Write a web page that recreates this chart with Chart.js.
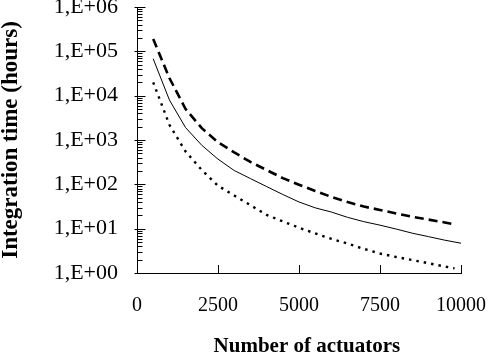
<!DOCTYPE html>
<html>
<head>
<meta charset="utf-8">
<script src="https://cdn.jsdelivr.net/npm/chart.js@4.4.1/dist/chart.umd.min.js"></script>
<style>
html,body{margin:0;padding:0;background:#fff;}
#wrap{width:490px;height:361px;}
</style>
</head>
<body>
<div id="wrap"><canvas id="c" width="490" height="361"></canvas></div>
<script>
// Number of actuators
const actuators = [500,1000,1500,2000,2500,3000,3500,4000,4500,5000,5500,6000,6500,7000,7500,8000,8500,9000,9500,9800];
const actuatorsSolid = [500,1000,1500,2000,2500,3000,3500,4000,4500,5000,5500,6000,6500,7000,7500,8000,8500,9000,9500,10000];
// Integration time (hours)
const dashedSeries = [190000,25000,5000,1850,890,525,320,210,138,98,71,52,40,31.5,26.5,22,18.6,16,13.8,12.5];
const solidSeries  = [68000,8000,1900,760,370,205,135,89,59,40,29.5,23.7,18,14.4,12,9.8,7.9,6.6,5.5,4.7];
const dottedSeries = [20000,2200,550,210,93,56,34,20.4,14.6,10.5,7.8,5.9,4.6,3.5,2.75,2.3,1.96,1.66,1.4,1.27];
// Axis ticks
const xTickValues = [0,2500,5000,7500,10000];
const xTickLabels = ['0','2500','5000','7500','10000'];
const yTickValues = [1,10,100,1000,10000,100000,1000000];
const yTickLabels = ['1,E+00','1,E+01','1,E+02','1,E+03','1,E+04','1,E+05','1,E+06'];

function pts(xs, ys){ return xs.map((x,i)=>({x:x, y:ys[i]})); }

const tickPlugin = {
  id:'tickMarks',
  afterDraw(chart){
    const ctx = chart.ctx;
    const xs = chart.scales.x, ys = chart.scales.y;
    const area = chart.chartArea;
    ctx.save();
    ctx.strokeStyle = '#000';
    ctx.lineWidth = 1;
    ctx.beginPath();
    xTickValues.forEach(v=>{
      if (v === xs.min) return;
      const px = Math.round(xs.getPixelForValue(v)) + 0.5;
      ctx.moveTo(px, area.bottom);
      ctx.lineTo(px, area.bottom - 8);
    });
    const left = Math.round(area.left) + 0.5;
    yTickValues.forEach((v,i)=>{
      const py = Math.round(ys.getPixelForValue(v)) + 0.5;
      ctx.moveTo(left - 3, py);
      ctx.lineTo(left + 8, py);
      if (i < yTickValues.length - 1) {
        for (let m = 2; m <= 9; m++) {
          const pm = Math.round(ys.getPixelForValue(v*m)) + 0.5;
          ctx.moveTo(left, pm);
          ctx.lineTo(left + 5, pm);
        }
      }
    });
    ctx.stroke();
    ctx.restore();
  }
};

new Chart(document.getElementById('c'), {
  type:'line',
  data:{
    datasets:[
      {label:'dashed', data:pts(actuators, dashedSeries), borderColor:'#000', borderWidth:2.6, borderDash:[9,5], pointRadius:0, fill:false, tension:0},
      {label:'solid', data:pts(actuatorsSolid, solidSeries), borderColor:'#000', borderWidth:1, pointRadius:0, fill:false, tension:0},
      {label:'dotted', data:pts(actuators, dottedSeries), borderColor:'#000', borderWidth:2.4, borderDash:[2.5,5], pointRadius:0, fill:false, tension:0}
    ]
  },
  options:{
    responsive:false,
    animation:false,
    devicePixelRatio:1,
    layout:{padding:{left:0,right:29,top:7,bottom:0}},
    plugins:{legend:{display:false}, tooltip:{enabled:false}},
    scales:{
      x:{
        type:'linear', min:0, max:10000,
        afterBuildTicks(s){ s.ticks = xTickValues.map(v=>({value:v})); },
        afterFit(s){ s.height = 88; s.paddingLeft = 0; s.paddingRight = 0; },
        grid:{display:false, drawTicks:false},
        border:{display:true, color:'#000', width:1},
        ticks:{color:'#000', padding:21, maxRotation:0, autoSkip:false,
               callback:(v)=>{ const i = xTickValues.indexOf(v); return i>=0 ? xTickLabels[i] : ''; },
               font:{family:'"Liberation Serif", "Times New Roman", serif', size:20}},
        title:{display:true, text:'   Number of actuators', color:'#000',
               font:{family:'"Liberation Serif", "Times New Roman", serif', size:21, weight:'bold', lineHeight:1},
               padding:{top:0,bottom:4}}
      },
      y:{
        type:'logarithmic', min:1, max:1000000,
        afterBuildTicks(s){ s.ticks = yTickValues.map(v=>({value:v})); },
        afterFit(s){ s.width = 137; s.paddingTop = 0; s.paddingBottom = 0; },
        grid:{display:false, drawTicks:false},
        border:{display:true, color:'#000', width:1},
        ticks:{color:'#000', padding:19, autoSkip:false,
               callback:(v)=>{ const i = yTickValues.indexOf(v); return i>=0 ? yTickLabels[i] : ''; },
               font:{family:'"Liberation Serif", "Times New Roman", serif', size:22}},
        title:{display:true, text:'Integration time (hours)', color:'#000',
               font:{family:'"Liberation Serif", "Times New Roman", serif', size:23, weight:'bold', lineHeight:1},
               padding:{top:0,bottom:0}}
      }
    }
  },
  plugins:[tickPlugin]
});
</script>
</body>
</html>
